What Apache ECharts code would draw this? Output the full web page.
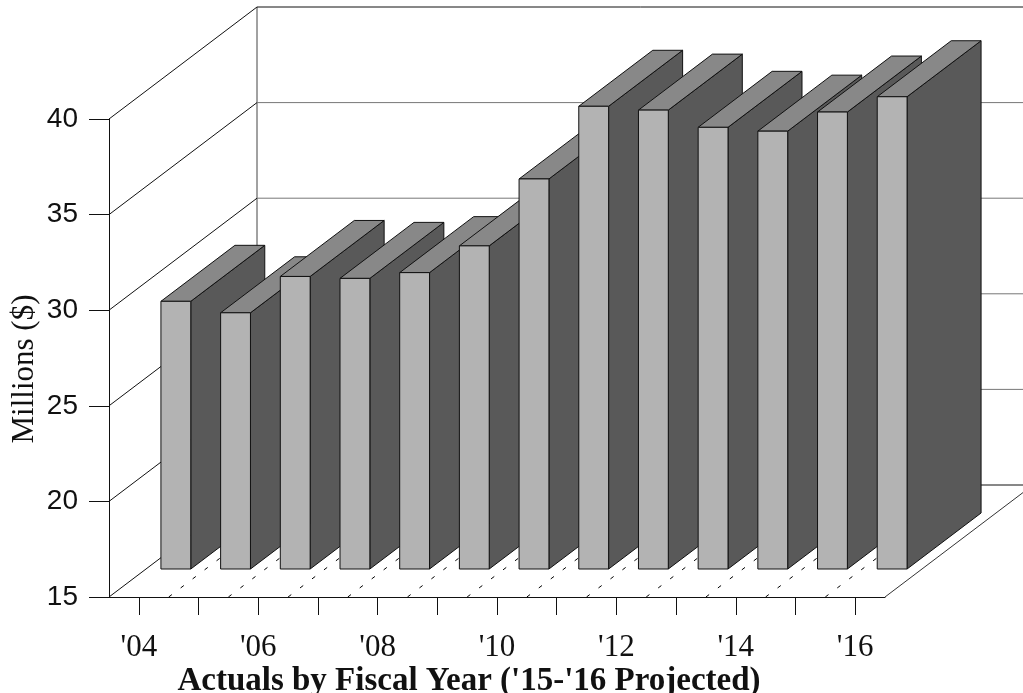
<!DOCTYPE html>
<html>
<head>
<meta charset="utf-8">
<script src="https://cdn.jsdelivr.net/npm/echarts@6/dist/echarts.min.js"></script>
<style>html,body{margin:0;padding:0;background:#fff}#c{width:1023px;height:693px}</style>
</head>
<body>
<div id="c"></div>
<script>
const years = ["'04","'05","'06","'07","'08","'09","'10","'11","'12","'13","'14","'15","'16"];
const values = [29.0, 28.4, 30.3, 30.2, 30.5, 31.9, 35.4, 39.2, 39.0, 38.1, 37.9, 38.9, 39.7];
const yTicks = [15, 20, 25, 30, 35, 40];
const yMin = 15, yMax = 40, yStep = 5;

const DX = 148, DY = -112; // depth projection (pixels)
const chart = echarts.init(document.getElementById('c'), null, {renderer: 'canvas'});

function wallItem(params, api) {
  const v = api.value(1);
  const cs = params.coordSys;
  const p = api.coord([0, v]);
  const y = p[1];
  const xl = cs.x, xr = cs.x + cs.width;
  const edge = (v === yMin || v === yMax);
  const children = [
    {type: 'line', shape: {x1: xl, y1: y, x2: xl + DX, y2: y + DY}, style: {stroke: '#111', lineWidth: 1}},
    {type: 'line', shape: {x1: xl + DX, y1: y + DY, x2: xr + DX, y2: y + DY}, style: {stroke: edge ? '#111' : '#777', lineWidth: 1}}
  ];
  if (v === yMin) {
    const top = api.coord([0, yMax])[1];
    children.push({type: 'line', shape: {x1: xr, y1: y, x2: xr + DX, y2: y + DY}, style: {stroke: '#333', lineWidth: 1}});
    children.push({type: 'line', shape: {x1: xl + DX, y1: y + DY, x2: xl + DX, y2: top + DY}, style: {stroke: '#444', lineWidth: 1}});
  }
  return {type: 'group', children};
}

function floorItem(params, api) {
  const i = api.value(0);
  const band = api.size([1, 0])[0];
  const p = api.coord([i, yMin]);
  const x = p[0] + band / 2, y = p[1];
  return {type: 'line', shape: {x1: x, y1: y, x2: x + DX, y2: y + DY},
    style: {stroke: '#000', lineWidth: 1, lineDash: [4, 11]}};
}

function barItem(params, api) {
  const i = api.value(0), v = api.value(1);
  const c = api.coord([i, v]);
  const b = api.coord([i, yMin]);
  const band = api.size([1, 0])[0];
  const hw = band * 0.25;
  const fx = DX * 0.25, fy = DY * 0.25;
  const ox = DX * 0.5, oy = DY * 0.5;
  const x0 = c[0] - hw + fx, x1 = c[0] + hw + fx;
  const yt = c[1] + fy, yb = b[1] + fy;
  const st = {stroke: '#111', lineWidth: 1, lineJoin: 'miter'};
  return {type: 'group', children: [
    {type: 'polygon', shape: {points: [[x1, yt], [x1 + ox, yt + oy], [x1 + ox, yb + oy], [x1, yb]]},
      style: Object.assign({fill: '#595959'}, st)},
    {type: 'polygon', shape: {points: [[x0, yt], [x1, yt], [x1 + ox, yt + oy], [x0 + ox, yt + oy]]},
      style: Object.assign({fill: '#888888'}, st)},
    {type: 'rect', shape: {x: x0, y: yt, width: x1 - x0, height: yb - yt},
      style: Object.assign({fill: '#b3b3b3'}, st)}
  ]};
}

const option = {
  animation: false,
  backgroundColor: '#ffffff',
  grid: {left: 109, right: 138, top: 119, bottom: 96, containLabel: false, outerBoundsMode: 'none'},
  xAxis: {
    type: 'category',
    data: years,
    boundaryGap: true,
    axisLine: {show: true, lineStyle: {color: '#111', width: 1}},
    axisTick: {show: true, alignWithLabel: true, interval: 0, length: 18, lineStyle: {color: '#111'}},
    axisLabel: {interval: 1, margin: 35, fontFamily: 'Liberation Serif', fontSize: 31, color: '#111'},
    splitLine: {show: false}
  },
  yAxis: {
    type: 'value',
    min: yMin, max: yMax, interval: yStep,
    axisLine: {show: true, lineStyle: {color: '#111', width: 1}},
    axisTick: {show: true, length: 20, lineStyle: {color: '#111'}},
    axisLabel: {margin: 31, fontFamily: 'Liberation Sans', fontSize: 28, color: '#111'},
    splitLine: {show: false}
  },
  graphic: [
    {type: 'text', x: 25, y: 369, rotation: Math.PI / 2,
      style: {text: 'Millions ($)', font: '31px "Liberation Serif"', fill: '#111', align: 'center', verticalAlign: 'middle'}},
    {type: 'text', x: 469, y: 681,
      style: {text: "Actuals by Fiscal Year ('15-'16 Projected)", font: 'bold 33px "Liberation Serif"', fill: '#111', align: 'center', verticalAlign: 'middle'}}
  ],
  series: [
    {type: 'custom', renderItem: wallItem, data: yTicks.map(v => [0, v]), z: 1, silent: true, clip: false},
    {type: 'custom', renderItem: floorItem, data: years.slice(0, -1).map((_, i) => [i, yMin]), z: 2, silent: true, clip: false},
    {type: 'custom', renderItem: barItem, data: values.map((v, i) => [i, v]), z: 3, clip: false}
  ]
};
chart.setOption(option);
</script>
</body>
</html>
